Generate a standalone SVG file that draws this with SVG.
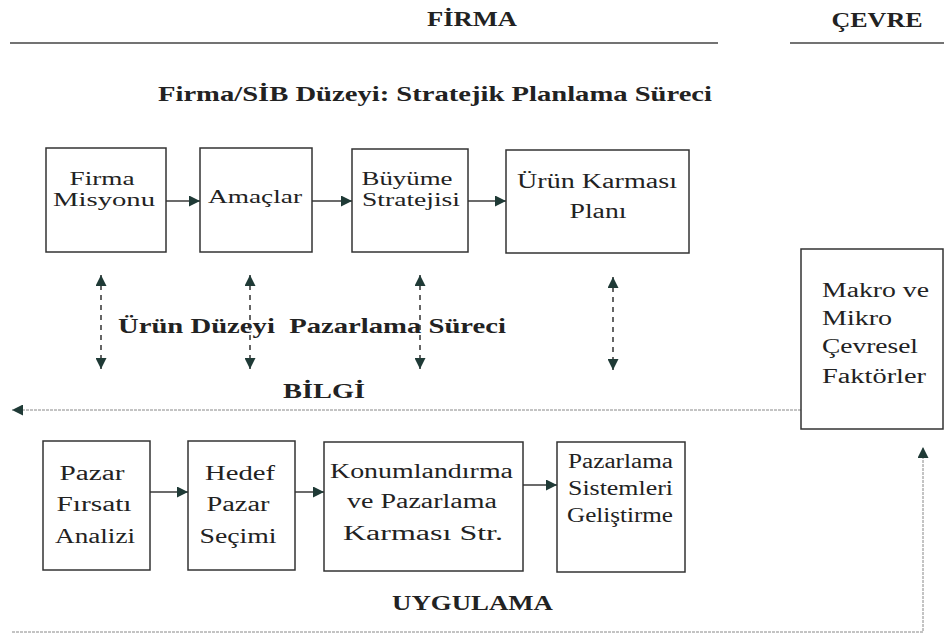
<svg xmlns="http://www.w3.org/2000/svg" width="944" height="639" viewBox="0 0 944 639">
<defs>
<style>
.bx{fill:#fff;stroke:#333;stroke-width:1.5}
.t{font-family:"Liberation Serif","Times New Roman",serif;font-size:20px;fill:#222}
.s{font-family:"Liberation Serif","Times New Roman",serif;font-size:18px;fill:#222}
.b{font-family:"Liberation Serif","Times New Roman",serif;font-size:21px;font-weight:bold;fill:#222}
.c{stroke:#3a3a3a;stroke-width:1.5;fill:none}
.d{stroke:#333;stroke-width:1.5;stroke-dasharray:5,5;fill:none}
.g{stroke:#888;stroke-width:1;stroke-dasharray:3,1;fill:none}
.rule{stroke:#444;stroke-width:1.5}
</style>
<marker id="ah" viewBox="0 0 10 10" refX="10" refY="5" markerWidth="12" markerHeight="11" markerUnits="userSpaceOnUse" orient="auto-start-reverse">
<path d="M0,0 L10,5 L0,10 z" fill="#1f3a36"/>
</marker>
</defs>

<g id="headers">
<text class="b" x="472" y="26" text-anchor="middle" textLength="90" lengthAdjust="spacingAndGlyphs">FİRMA</text>
<text class="b" x="877" y="27" text-anchor="middle" textLength="91" lengthAdjust="spacingAndGlyphs">ÇEVRE</text>
<line class="rule" x1="10" y1="43" x2="718" y2="43"/>
<line class="rule" x1="790" y1="43" x2="944" y2="43"/>
<text class="b" x="158" y="101" textLength="554" lengthAdjust="spacingAndGlyphs">Firma/SİB Düzeyi: Stratejik Planlama Süreci</text>
<text class="b" x="118" y="333" textLength="388" lengthAdjust="spacingAndGlyphs" style="white-space:pre">Ürün Düzeyi  Pazarlama Süreci</text>
<text class="b" x="283" y="398" textLength="82" lengthAdjust="spacingAndGlyphs">BİLGİ</text>
<text class="b" x="392" y="610" textLength="161" lengthAdjust="spacingAndGlyphs">UYGULAMA</text>
</g>

<g id="connectors">
<line class="c" x1="166" y1="201" x2="200" y2="201" marker-end="url(#ah)"/>
<line class="c" x1="312" y1="201" x2="352" y2="201" marker-end="url(#ah)"/>
<line class="c" x1="468" y1="201" x2="506" y2="201" marker-end="url(#ah)"/>
<line class="c" x1="150" y1="492" x2="188" y2="492" marker-end="url(#ah)"/>
<line class="c" x1="295" y1="492" x2="324" y2="492" marker-end="url(#ah)"/>
<line class="c" x1="523" y1="485" x2="557" y2="485" marker-end="url(#ah)"/>
<line class="d" x1="101" y1="275" x2="101" y2="369" marker-start="url(#ah)" marker-end="url(#ah)"/>
<line class="d" x1="250" y1="275" x2="250" y2="369" marker-start="url(#ah)" marker-end="url(#ah)"/>
<line class="d" x1="420" y1="275" x2="420" y2="369" marker-start="url(#ah)" marker-end="url(#ah)"/>
<line class="d" x1="613" y1="277" x2="613" y2="370" marker-start="url(#ah)" marker-end="url(#ah)"/>
<line class="g" x1="801" y1="410" x2="12" y2="410" marker-end="url(#ah)"/>
<polyline class="g" points="12,632 923,632 923,447" marker-end="url(#ah)"/>
</g>

<g id="n-misyon">
<rect class="bx" x="46" y="148" width="120" height="104"/>
<text class="s" x="102" y="185" text-anchor="middle" textLength="65" lengthAdjust="spacingAndGlyphs">Firma</text>
<text class="s" x="104" y="206" text-anchor="middle" textLength="102" lengthAdjust="spacingAndGlyphs">Misyonu</text>
</g>
<g id="n-amaclar">
<rect class="bx" x="200" y="148" width="112" height="104"/>
<text class="s" x="255" y="203" text-anchor="middle" textLength="94" lengthAdjust="spacingAndGlyphs">Amaçlar</text>
</g>
<g id="n-buyume">
<rect class="bx" x="352" y="149" width="116" height="103"/>
<text class="s" x="407" y="185" text-anchor="middle" textLength="91" lengthAdjust="spacingAndGlyphs">Büyüme</text>
<text class="s" x="411" y="206" text-anchor="middle" textLength="98" lengthAdjust="spacingAndGlyphs">Stratejisi</text>
</g>
<g id="n-urun">
<rect class="bx" x="506" y="150" width="183" height="103"/>
<text class="t" x="597" y="188" text-anchor="middle" textLength="160" lengthAdjust="spacingAndGlyphs">Ürün Karması</text>
<text class="t" x="598" y="218" text-anchor="middle" textLength="57" lengthAdjust="spacingAndGlyphs">Planı</text>
</g>
<g id="n-makro">
<rect class="bx" x="801" y="249" width="142" height="180"/>
<text class="t" x="822" y="297" textLength="107" lengthAdjust="spacingAndGlyphs">Makro ve</text>
<text class="t" x="822" y="325" textLength="70" lengthAdjust="spacingAndGlyphs">Mikro</text>
<text class="t" x="822" y="353" textLength="96" lengthAdjust="spacingAndGlyphs">Çevresel</text>
<text class="t" x="822" y="383" textLength="104" lengthAdjust="spacingAndGlyphs">Faktörler</text>
</g>
<g id="n-firsat">
<rect class="bx" x="43" y="441" width="107" height="129"/>
<text class="t" x="92" y="480" text-anchor="middle" textLength="65" lengthAdjust="spacingAndGlyphs">Pazar</text>
<text class="t" x="94" y="511" text-anchor="middle" textLength="75" lengthAdjust="spacingAndGlyphs">Fırsatı</text>
<text class="t" x="95" y="543" text-anchor="middle" textLength="80" lengthAdjust="spacingAndGlyphs">Analizi</text>
</g>
<g id="n-hedef">
<rect class="bx" x="188" y="441" width="107" height="129"/>
<text class="t" x="240" y="480" text-anchor="middle" textLength="70" lengthAdjust="spacingAndGlyphs">Hedef</text>
<text class="t" x="238" y="511" text-anchor="middle" textLength="63" lengthAdjust="spacingAndGlyphs">Pazar</text>
<text class="t" x="238" y="543" text-anchor="middle" textLength="77" lengthAdjust="spacingAndGlyphs">Seçimi</text>
</g>
<g id="n-konum">
<rect class="bx" x="324" y="442" width="199" height="129"/>
<text class="t" x="330" y="478" textLength="183" lengthAdjust="spacingAndGlyphs">Konumlandırma</text>
<text class="t" x="347" y="508" textLength="150" lengthAdjust="spacingAndGlyphs">ve Pazarlama</text>
<text class="t" x="343" y="540" textLength="160" lengthAdjust="spacingAndGlyphs">Karması Str.</text>
</g>
<g id="n-sistem">
<rect class="bx" x="557" y="442" width="128" height="130"/>
<text class="t" x="568" y="468" textLength="105" lengthAdjust="spacingAndGlyphs">Pazarlama</text>
<text class="t" x="568" y="495" textLength="105" lengthAdjust="spacingAndGlyphs">Sistemleri</text>
<text class="t" x="567" y="522" textLength="106" lengthAdjust="spacingAndGlyphs">Geliştirme</text>
</g>
</svg>
